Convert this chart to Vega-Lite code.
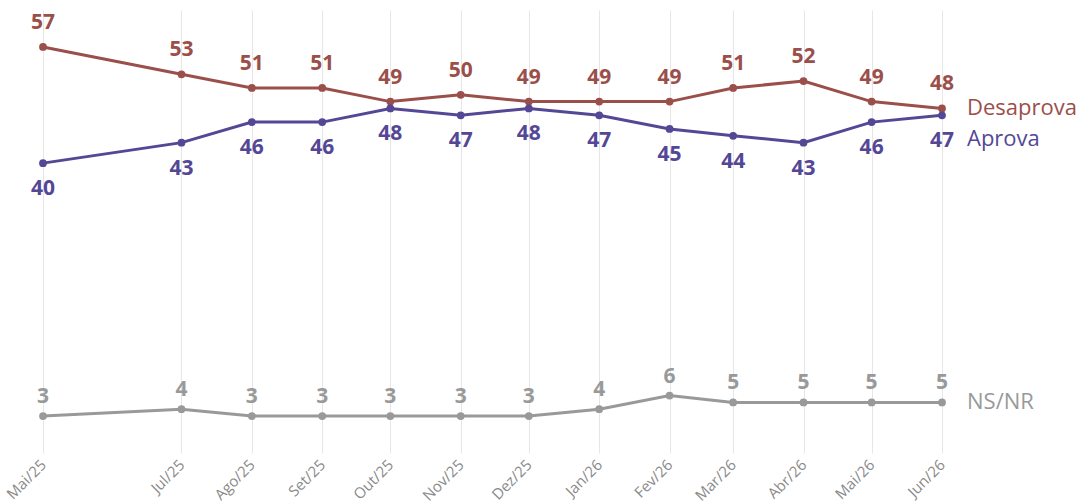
{
  "$schema": "https://vega.github.io/schema/vega-lite/v6.json",
  "autosize": "none",
  "width": 899,
  "height": 443,
  "padding": {"left": 43, "top": 10, "right": 147, "bottom": 49},
  "background": "white",
  "config": {"view": {"stroke": null}},
  "data": {"values": [
    {"date": "2025-05-01", "serie": "Desaprova", "v": 57},
    {"date": "2025-07-01", "serie": "Desaprova", "v": 53},
    {"date": "2025-08-01", "serie": "Desaprova", "v": 51},
    {"date": "2025-09-01", "serie": "Desaprova", "v": 51},
    {"date": "2025-10-01", "serie": "Desaprova", "v": 49},
    {"date": "2025-11-01", "serie": "Desaprova", "v": 50},
    {"date": "2025-12-01", "serie": "Desaprova", "v": 49},
    {"date": "2026-01-01", "serie": "Desaprova", "v": 49},
    {"date": "2026-02-01", "serie": "Desaprova", "v": 49},
    {"date": "2026-03-01", "serie": "Desaprova", "v": 51},
    {"date": "2026-04-01", "serie": "Desaprova", "v": 52},
    {"date": "2026-05-01", "serie": "Desaprova", "v": 49},
    {"date": "2026-06-01", "serie": "Desaprova", "v": 48},
    {"date": "2025-05-01", "serie": "Aprova", "v": 40},
    {"date": "2025-07-01", "serie": "Aprova", "v": 43},
    {"date": "2025-08-01", "serie": "Aprova", "v": 46},
    {"date": "2025-09-01", "serie": "Aprova", "v": 46},
    {"date": "2025-10-01", "serie": "Aprova", "v": 48},
    {"date": "2025-11-01", "serie": "Aprova", "v": 47},
    {"date": "2025-12-01", "serie": "Aprova", "v": 48},
    {"date": "2026-01-01", "serie": "Aprova", "v": 47},
    {"date": "2026-02-01", "serie": "Aprova", "v": 45},
    {"date": "2026-03-01", "serie": "Aprova", "v": 44},
    {"date": "2026-04-01", "serie": "Aprova", "v": 43},
    {"date": "2026-05-01", "serie": "Aprova", "v": 46},
    {"date": "2026-06-01", "serie": "Aprova", "v": 47},
    {"date": "2025-05-01", "serie": "NS/NR", "v": 3},
    {"date": "2025-07-01", "serie": "NS/NR", "v": 4},
    {"date": "2025-08-01", "serie": "NS/NR", "v": 3},
    {"date": "2025-09-01", "serie": "NS/NR", "v": 3},
    {"date": "2025-10-01", "serie": "NS/NR", "v": 3},
    {"date": "2025-11-01", "serie": "NS/NR", "v": 3},
    {"date": "2025-12-01", "serie": "NS/NR", "v": 3},
    {"date": "2026-01-01", "serie": "NS/NR", "v": 4},
    {"date": "2026-02-01", "serie": "NS/NR", "v": 6},
    {"date": "2026-03-01", "serie": "NS/NR", "v": 5},
    {"date": "2026-04-01", "serie": "NS/NR", "v": 5},
    {"date": "2026-05-01", "serie": "NS/NR", "v": 5},
    {"date": "2026-06-01", "serie": "NS/NR", "v": 5}
  ]},
  "encoding": {
    "x": {
      "field": "date", "type": "temporal",
      "scale": {"type": "utc", "domain": [{"year": 2025, "month": 5, "date": 1, "utc": true}, {"year": 2026, "month": 6, "date": 1, "utc": true}]},
      "axis": {
        "title": null,
        "domain": false,
        "ticks": false,
        "grid": true,
        "gridColor": "#e6e6e6",
        "gridWidth": 1,
        "values": [
          {"year": 2025, "month": 5, "date": 1, "utc": true},
          {"year": 2025, "month": 7, "date": 1, "utc": true},
          {"year": 2025, "month": 8, "date": 1, "utc": true},
          {"year": 2025, "month": 9, "date": 1, "utc": true},
          {"year": 2025, "month": 10, "date": 1, "utc": true},
          {"year": 2025, "month": 11, "date": 1, "utc": true},
          {"year": 2025, "month": 12, "date": 1, "utc": true},
          {"year": 2026, "month": 1, "date": 1, "utc": true},
          {"year": 2026, "month": 2, "date": 1, "utc": true},
          {"year": 2026, "month": 3, "date": 1, "utc": true},
          {"year": 2026, "month": 4, "date": 1, "utc": true},
          {"year": 2026, "month": 5, "date": 1, "utc": true},
          {"year": 2026, "month": 6, "date": 1, "utc": true}
        ],
        "labelExpr": "['Jan','Fev','Mar','Abr','Mai','Jun','Jul','Ago','Set','Out','Nov','Dez'][utcmonth(datum.value)] + '/' + utcFormat(datum.value, '%y')",
        "labelAngle": -45,
        "labelAlign": "right",
        "labelBaseline": "middle",
        "labelPadding": 9,
        "labelFont": "Open Sans",
        "labelFontSize": 15,
        "labelColor": "#8a8a8a",
        "labelOverlap": false
      }
    },
    "y": {
      "field": "v", "type": "quantitative",
      "scale": {"domain": [-2.4, 62.4], "nice": false, "zero": false},
      "axis": null
    },
    "color": {
      "field": "serie", "type": "nominal",
      "scale": {"domain": ["Desaprova", "Aprova", "NS/NR"], "range": ["#9a4f4a", "#544795", "#999999"]},
      "legend": null
    }
  },
  "layer": [
    {"mark": {"type": "line", "strokeWidth": 3}},
    {"mark": {"type": "point", "filled": true, "size": 60, "opacity": 1}},
    {
      "transform": [{"filter": "datum.serie === 'Desaprova'"}],
      "mark": {"type": "text", "dy": -24, "font": "Open Sans", "fontWeight": "bold", "fontSize": 21},
      "encoding": {"text": {"field": "v", "type": "quantitative"}}
    },
    {
      "transform": [{"filter": "datum.serie === 'Aprova'"}],
      "mark": {"type": "text", "dy": 26, "font": "Open Sans", "fontWeight": "bold", "fontSize": 21},
      "encoding": {"text": {"field": "v", "type": "quantitative"}}
    },
    {
      "transform": [{"filter": "datum.serie === 'NS/NR'"}],
      "mark": {"type": "text", "dy": -19, "font": "Open Sans", "fontWeight": "bold", "fontSize": 21},
      "encoding": {"text": {"field": "v", "type": "quantitative"}}
    },
    {
      "transform": [{"filter": "utcFormat(datum.date, '%Y-%m') === '2026-06' && datum.serie !== 'Aprova'"}],
      "mark": {"type": "text", "align": "left", "dx": 25, "dy": 0, "font": "Open Sans", "fontSize": 22},
      "encoding": {"text": {"field": "serie", "type": "nominal"}}
    },
    {
      "transform": [{"filter": "utcFormat(datum.date, '%Y-%m') === '2026-06' && datum.serie === 'Aprova'"}],
      "mark": {"type": "text", "align": "left", "dx": 25, "dy": 24, "font": "Open Sans", "fontSize": 22},
      "encoding": {"text": {"field": "serie", "type": "nominal"}}
    }
  ]
}
